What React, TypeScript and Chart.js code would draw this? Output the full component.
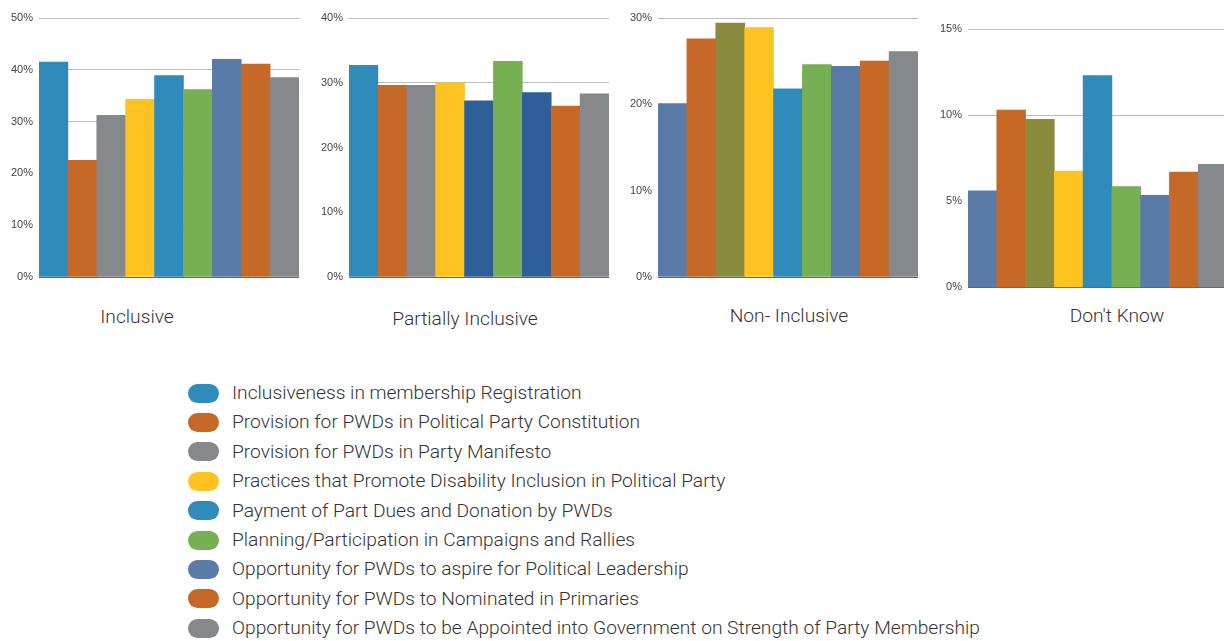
import React, { useEffect, useRef } from "react";
import { Chart, registerables } from "chart.js";

Chart.register(...registerables);

const categories = [
  "Inclusiveness in membership Registration",
  "Provision for PWDs in Political Party Constitution",
  "Provision for PWDs in Party Manifesto",
  "Practices that Promote Disability Inclusion in Political Party",
  "Payment of Part Dues and Donation by PWDs",
  "Planning/Participation in Campaigns and Rallies",
  "Opportunity for PWDs to aspire for Political Leadership",
  "Opportunity for PWDs to Nominated in Primaries",
  "Opportunity for PWDs to be Appointed into Government on Strength of Party Membership",
];

const BLUE = "#2E8BBA";
const ORANGE = "#C66828";
const GRAY = "#87888C";
const YELLOW = "#FEC321";
const GREEN = "#77B052";
const SLATE = "#5A7AA8";
const DARKBLUE = "#2E5F99";
const OLIVE = "#8A8B3C";

const legendColors = [BLUE, ORANGE, GRAY, YELLOW, BLUE, GREEN, SLATE, ORANGE, GRAY];

const panelTitles = ["Inclusive", "Partially Inclusive", "Non- Inclusive", "Don't Know"];

const inclusiveValues = [41.5, 22.5, 31.2, 34.3, 38.9, 36.2, 42.0, 41.1, 38.5];
const partiallyValues = [32.7, 29.6, 29.6, 30.0, 27.2, 33.3, 28.5, 26.4, 28.3];
const nonInclusiveValues = [20.1, 27.6, 29.4, 28.9, 21.8, 24.6, 24.4, 25.0, 26.1];
const dontKnowValues = [5.6, 10.3, 9.75, 6.75, 12.3, 5.85, 5.35, 6.7, 7.15];

const inclusiveColors = [BLUE, ORANGE, GRAY, YELLOW, BLUE, GREEN, SLATE, ORANGE, GRAY];
const partiallyColors = [BLUE, ORANGE, GRAY, YELLOW, DARKBLUE, GREEN, DARKBLUE, ORANGE, GRAY];
const nonInclusiveColors = [SLATE, ORANGE, OLIVE, YELLOW, BLUE, GREEN, SLATE, ORANGE, GRAY];
const dontKnowColors = [SLATE, ORANGE, OLIVE, YELLOW, BLUE, GREEN, SLATE, ORANGE, GRAY];

const yMax = [50, 40, 30, 15];
const yStep = [10, 10, 10, 5];

type PanelProps = {
  values: number[];
  colors: string[];
  max: number;
  step: number;
  left: number;
  width: number;
  height: number;
  padTop: number;
  padBottom: number;
};

function Panel({ values, colors, max, step, left, width, height, padTop, padBottom }: PanelProps) {
  const ref = useRef<HTMLCanvasElement | null>(null);
  useEffect(() => {
    if (!ref.current) return;
    const chart = new Chart(ref.current, {
      type: "bar",
      data: {
        labels: categories,
        datasets: [
          {
            data: values,
            backgroundColor: colors,
            borderWidth: 0,
            categoryPercentage: 1,
            barPercentage: 1,
          },
        ],
      },
      options: {
        animation: false,
        responsive: true,
        maintainAspectRatio: false,
        layout: { padding: { top: padTop, bottom: padBottom, left: 0, right: 0 } },
        plugins: { legend: { display: false }, tooltip: { enabled: false }, title: { display: false } },
        scales: {
          x: {
            grid: { display: false },
            ticks: { display: false },
            border: { display: true, color: "#666666", width: 1 },
            afterFit: (s: any) => {
              s.height = 0;
            },
          },
          y: {
            min: 0,
            max: max,
            ticks: {
              stepSize: step,
              padding: 6,
              color: "#444444",
              font: { family: "'Liberation Sans', Arial, sans-serif", size: 11 },
              callback: (v: any) => v + "%",
            },
            grid: { color: "#BDBDBD", lineWidth: 1, drawTicks: false },
            border: { display: false },
            afterFit: (s: any) => {
              s.width = 39;
            },
          },
        },
      },
    });
    return () => chart.destroy();
  }, []);
  return (
    <div style={{ position: "absolute", left, top: 0, width, height }}>
      <canvas ref={ref} />
    </div>
  );
}

const titleCenters = [137, 465, 789, 1117];
const titleYs = [317, 319, 316, 316];

export default function App() {
  const font = "Roboto, 'Noto Sans', sans-serif";
  return (
    <div
      style={{
        position: "absolute",
        left: 0,
        top: 0,
        width: 1224,
        height: 641,
        overflow: "hidden",
        background: "#ffffff",
        fontFamily: font,
      }}
    >
      <Panel values={inclusiveValues} colors={inclusiveColors} max={yMax[0]} step={yStep[0]} left={0} width={299} height={290} padTop={18} padBottom={13} />
      <Panel values={partiallyValues} colors={partiallyColors} max={yMax[1]} step={yStep[1]} left={310} width={299} height={290} padTop={18} padBottom={13} />
      <Panel values={nonInclusiveValues} colors={nonInclusiveColors} max={yMax[2]} step={yStep[2]} left={619} width={299} height={290} padTop={18} padBottom={13} />
      <Panel values={dontKnowValues} colors={dontKnowColors} max={yMax[3]} step={yStep[3]} left={929} width={298} height={300} padTop={29} padBottom={11} />
      {panelTitles.map((t, i) => (
        <div
          key={t}
          style={{
            position: "absolute",
            left: titleCenters[i] - 150,
            width: 300,
            top: titleYs[i] - 13,
            height: 26,
            lineHeight: "26px",
            textAlign: "center",
            fontSize: 19.2,
            fontWeight: 300,
            color: "#333333",
            whiteSpace: "nowrap",
          }}
        >
          {t}
        </div>
      ))}
      {categories.map((c, i) => (
        <div
          key={c}
          style={{
            position: "absolute",
            left: 188,
            top: 393 + i * 29.4 - 13,
            height: 26,
            display: "flex",
            alignItems: "center",
            whiteSpace: "nowrap",
          }}
        >
          <span
            style={{
              display: "inline-block",
              width: 31,
              height: 19,
              borderRadius: 10,
              background: legendColors[i],
              marginRight: 13,
            }}
          />
          <span style={{ fontSize: 19.2, fontWeight: 300, color: "#333333", lineHeight: "26px" }}>{c}</span>
        </div>
      ))}
    </div>
  );
}
